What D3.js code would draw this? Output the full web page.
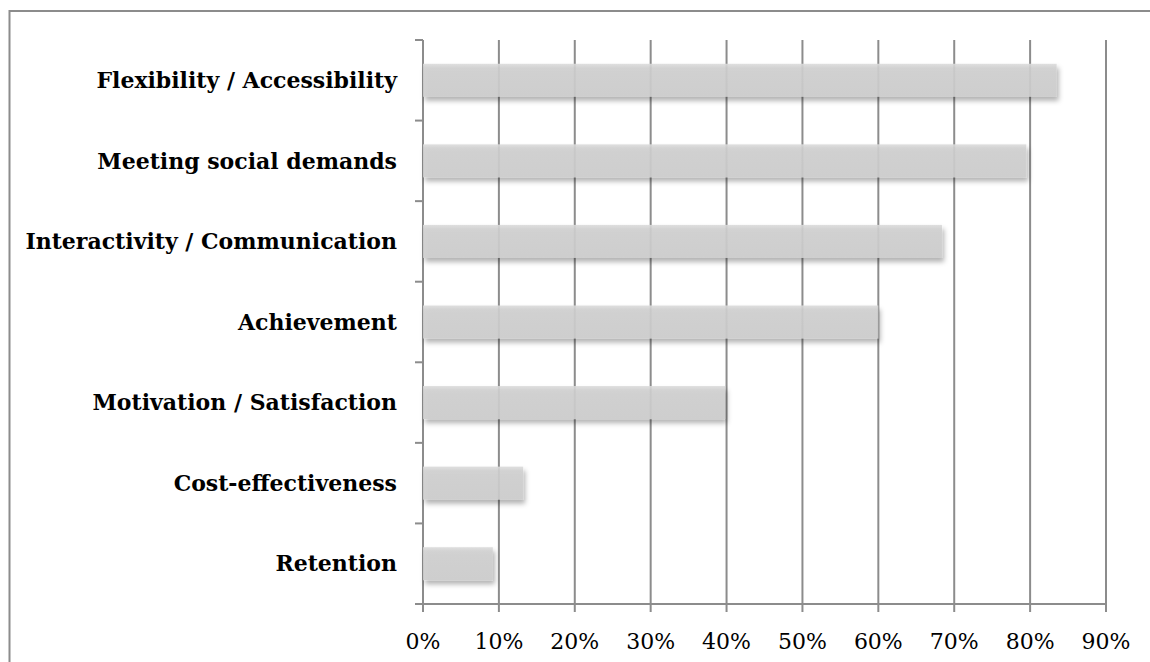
<!DOCTYPE html>
<html>
<head>
<meta charset="utf-8">
<script src="https://cdn.jsdelivr.net/npm/d3@7"></script>
<style>
  html, body { margin: 0; padding: 0; background: #fff; }
  svg { display: block; }
</style>
</head>
<body>
<svg id="chart" width="1150" height="662"></svg>
<script>
// Share of studies reporting each benefit (fractions)
const categories = [
  "Flexibility / Accessibility",
  "Meeting social demands",
  "Interactivity / Communication",
  "Achievement",
  "Motivation / Satisfaction",
  "Cost-effectiveness",
  "Retention"
];
const values = [0.835, 0.795, 0.684, 0.60, 0.398, 0.132, 0.092];
const tickValues = [0, 0.1, 0.2, 0.3, 0.4, 0.5, 0.6, 0.7, 0.8, 0.9];

const svg = d3.select("#chart");
const axisColor = "#8c8c8c";

// Frame around the chart area
svg.append("rect")
  .attr("x", 9.5).attr("y", 11).attr("width", 1160).attr("height", 700)
  .attr("fill", "none").attr("stroke", axisColor).attr("stroke-width", 2);

const x = d3.scaleLinear().domain([0, 0.9]).range([423, 1106]);
const y = d3.scaleBand().domain(categories).range([40, 604])
  .paddingInner(0.59).paddingOuter(0.295);

const defs = svg.append("defs");
const shadow = defs.append("filter").attr("id", "barShadow")
  .attr("x", "-5%").attr("y", "-30%").attr("width", "115%").attr("height", "180%");
shadow.append("feDropShadow")
  .attr("dx", 2).attr("dy", 4).attr("stdDeviation", 2.5)
  .attr("flood-color", "#000").attr("flood-opacity", 0.33);

const grad = defs.append("linearGradient").attr("id", "barFill")
  .attr("x1", 0).attr("y1", 0).attr("x2", 0).attr("y2", 1);
grad.append("stop").attr("offset", "0%").attr("stop-color", "#dcdcdc");
grad.append("stop").attr("offset", "12%").attr("stop-color", "#d0d0d0");
grad.append("stop").attr("offset", "100%").attr("stop-color", "#cdcdcd");

// Vertical gridlines, running a little below the axis as tick marks
const step = y.step();
svg.append("g").selectAll("line").data(tickValues).join("line")
  .attr("x1", d => x(d)).attr("x2", d => x(d))
  .attr("y1", 40).attr("y2", 612)
  .attr("stroke", axisColor).attr("stroke-width", 2);

// Category axis with its boundary ticks
const boundaries = d3.range(categories.length + 1).map(i => 40 + i * step);
svg.append("line")
  .attr("x1", x(0)).attr("x2", x(0)).attr("y1", 40).attr("y2", 604)
  .attr("stroke", axisColor).attr("stroke-width", 2);
svg.append("g").selectAll("line").data(boundaries).join("line")
  .attr("x1", x(0) - 8).attr("x2", x(0))
  .attr("y1", d => d).attr("y2", d => d)
  .attr("stroke", axisColor).attr("stroke-width", 2);

// Value axis baseline
svg.append("line")
  .attr("x1", x(0) - 8).attr("x2", x(0.9)).attr("y1", 604).attr("y2", 604)
  .attr("stroke", axisColor).attr("stroke-width", 2);

// Bars
svg.append("g").selectAll("rect").data(categories).join("rect")
  .attr("x", x(0))
  .attr("y", d => y(d))
  .attr("width", (d, i) => x(values[i]) - x(0))
  .attr("height", y.bandwidth())
  .attr("fill", "url(#barFill)")
  .attr("fill-opacity", 0.9)
  .attr("filter", "url(#barShadow)");

// Category labels
svg.append("g").selectAll("text").data(categories).join("text")
  .attr("x", 397)
  .attr("y", d => y(d) + y.bandwidth() / 2)
  .attr("dy", "0.35em")
  .attr("text-anchor", "end")
  .attr("font-family", "'DejaVu Serif', serif")
  .attr("font-weight", "bold")
  .attr("font-size", 22)
  .attr("fill", "#000")
  .text(d => d);

// Percentage tick labels
svg.append("g").selectAll("text").data(tickValues).join("text")
  .attr("x", d => x(d))
  .attr("y", 641)
  .attr("dy", "0.35em")
  .attr("text-anchor", "middle")
  .attr("font-family", "'DejaVu Serif', serif")
  .attr("font-size", 22)
  .attr("fill", "#000")
  .text(d3.format(".0%"));
</script>
</body>
</html>
